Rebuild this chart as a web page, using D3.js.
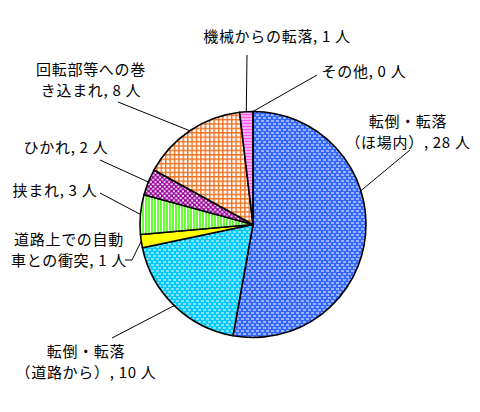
<!DOCTYPE html>
<html><head><meta charset="utf-8">
<script src="https://cdn.jsdelivr.net/npm/d3@7"></script>
<style>
html,body{margin:0;padding:0;background:#fff;}
svg{display:block;}
text{font-family:"Noto Sans CJK JP","Noto Sans",sans-serif;font-size:15px;letter-spacing:0.7px;fill:#000;}
pattern.crisp rect{shape-rendering:crispEdges;}
</style></head>
<body>
<svg id="chart" width="480" height="412"></svg>
<script>
// ---- data ----
const categories = ["転倒・転落（ほ場内）","転倒・転落（道路から）","道路上での自動車との衝突","挟まれ","ひかれ","回転部等への巻き込まれ","機械からの転落","その他"];
const values = [28, 10, 1, 3, 2, 8, 1, 0];
const labelLines = [
  ["転倒・転落", "（ほ場内）, 28 人"],
  ["転倒・転落", "（道路から）, 10 人"],
  ["道路上での自動", "車との衝突, 1 人"],
  ["挟まれ, 3 人"],
  ["ひかれ, 2 人"],
  ["回転部等への巻", "き込まれ, 8 人"],
  ["機械からの転落, 1 人"],
  ["その他, 0 人"]
];

// ---- layout ----
const W = 480, H = 412;
const cx = 253, cy = 224.5, R = 113;
const labelLayout = [
  {x:408, y:122, lead:[[410,150]], angle:72.6},
  {x:86,  y:352, lead:[[112,338]]},
  {x:69,  y:240, lead:[[125,260],[132,260]]},
  {x:55,  y:191, lead:[[100,193]]},
  {x:66,  y:148, lead:[[100,160]]},
  {x:91,  y:70,  lead:[[118,102]]},
  {x:277, y:37,  lead:[[247,55]]},
  {x:364, y:72,  lead:[[317,75]]}
];
const lineGap = 21;

const svg = d3.select("#chart");
const defs = svg.append("defs");

function pat(id, w, h, bg, rects, crisp){
  const p = defs.append("pattern").attr("id", id).attr("patternUnits","userSpaceOnUse")
    .attr("class", crisp ? "crisp" : null)
    .attr("width", w).attr("height", h);
  p.append("rect").attr("width", w).attr("height", h).attr("fill", bg);
  rects.forEach(r => p.append("rect").attr("x",r[0]).attr("y",r[1]).attr("width",r[2]).attr("height",r[3]).attr("fill","#ffffff"));
}
const brick = [[0,1,3,1],[3,4,2,1],[0,4,1,1]];
pat("pBlue", 5, 6, "#3366ff", brick, true);
pat("pCyan", 5, 6, "#00c8f8", brick, true);
pat("pYellow", 4, 4, "#ffff00", [], true);
pat("pGreen", 3, 4, "#66ff33", [[2,0,1,4]], true);
pat("pPurple", 4.6, 4.6, "#990099", [[0.4,0.3,2,1.8],[2.7,2.6,1.9,1.8]], false);
pat("pOrange", 4.4, 4.4, "#f07020", [[1.4,1.4,3,3]], false);
pat("pPink", 4, 3, "#ff55ee", [[0,2,4,1]], true);
pat("pGrey", 4, 4, "#999999", [], true);
const fills = ["url(#pBlue)","url(#pCyan)","url(#pYellow)","url(#pGreen)","url(#pPurple)","url(#pOrange)","url(#pPink)","url(#pGrey)"];

const pie = d3.pie().sort(null).value(d => d)(values);
const arc = d3.arc().innerRadius(0).outerRadius(R);

const g = svg.append("g").attr("transform", `translate(${cx},${cy})`);
g.selectAll("path.slice").data(pie).join("path")
  .attr("class","slice")
  .attr("d", arc)
  .attr("fill", (d,i) => fills[i])
  .attr("stroke", "#000")
  .attr("stroke-width", 1.6)
  .attr("stroke-linejoin","round");

// leader lines
const edge = a => [cx + R*Math.sin(a), cy - R*Math.cos(a)];
pie.forEach((d,i) => {
  const L = labelLayout[i];
  const a = L.angle !== undefined ? L.angle*Math.PI/180 : (d.value === 0 ? d.startAngle : (d.startAngle + d.endAngle)/2);
  const pts = L.lead.concat([edge(a)]);
  svg.append("path").attr("d", d3.line()(pts))
    .attr("fill","none").attr("stroke","#000").attr("stroke-width",1);
});

// labels
labelLines.forEach((lines,i) => {
  const L = labelLayout[i];
  const t = svg.append("text").attr("text-anchor","middle");
  lines.forEach((s,j) => {
    t.append("tspan").attr("x", L.x).attr("y", L.y + j*lineGap).attr("dy","0.36em").text(s);
  });
});
</script>
</body></html>
